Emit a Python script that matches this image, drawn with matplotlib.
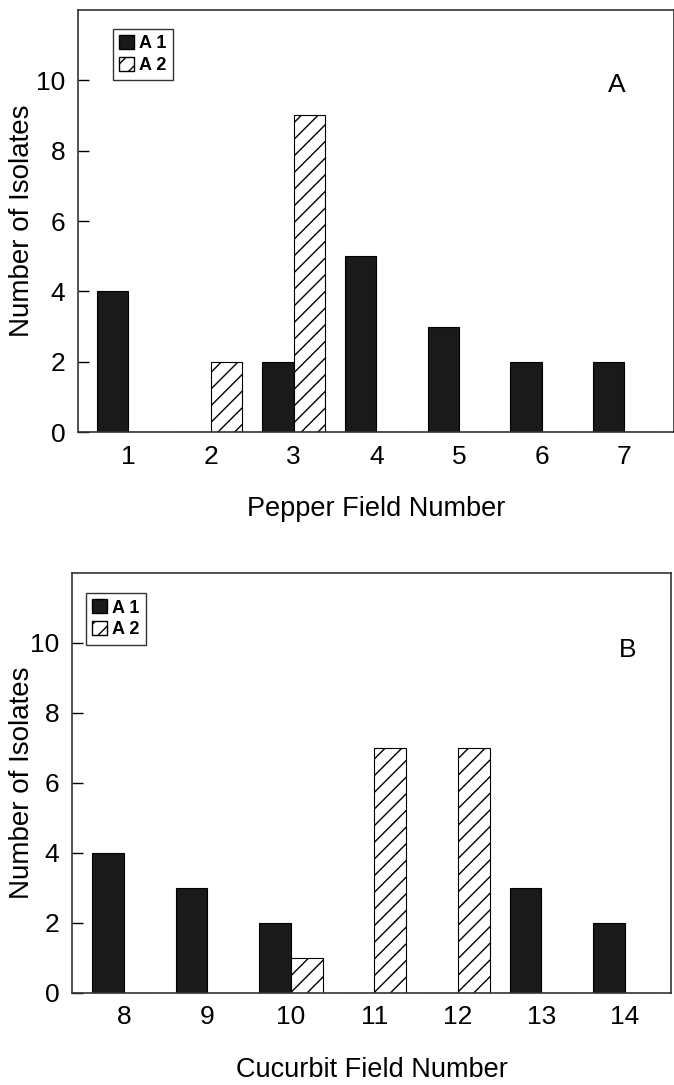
import matplotlib.pyplot as plt
from matplotlib.patches import Patch

plt.rcParams['font.family'] = ['Liberation Sans', 'DejaVu Sans']
plt.rcParams['hatch.linewidth'] = 1.0

# isolates per field, by mating type
pepper_fields = [1, 2, 3, 4, 5, 6, 7]
pepper_a1 = [4, 0, 2, 5, 3, 2, 2]
pepper_a2 = [0, 2, 9, 0, 0, 0, 0]

cucurbit_fields = [8, 9, 10, 11, 12, 13, 14]
cucurbit_a1 = [4, 3, 2, 0, 0, 3, 2]
cucurbit_a2 = [0, 0, 1, 7, 7, 0, 0]

yticks = [0, 2, 4, 6, 8, 10]


def draw_panel(ax, fields, a1, a2, xlabel, letter, xlim, leg_xy, letter_xy, ylab_x):
    w = 0.38
    ax.bar(fields, a1, width=-w, align='edge', color='#1a1a1a', edgecolor='black', linewidth=0.8)
    ax.bar(fields, a2, width=w, align='edge', color='white', edgecolor='black',
           linewidth=0.8, hatch='//')
    ax.set_xlim(*xlim)
    ax.set_ylim(0, 12)
    ax.set_yticks(yticks)
    ax.set_xticks(fields)
    ax.tick_params(axis='y', direction='in', length=8, width=1, labelsize=19, pad=9)
    ax.tick_params(axis='x', length=0, labelsize=19, pad=9)
    for s in ax.spines.values():
        s.set_linewidth(1.2)
        s.set_color('#333333')
    ax.set_ylabel('Number of Isolates', fontsize=20)
    ax.yaxis.set_label_coords(ylab_x, 0.5)
    ax.set_xlabel(xlabel, fontsize=19.5)
    ax.xaxis.set_label_coords(0.5, -0.152)
    ax.text(letter_xy[0], letter_xy[1], letter, transform=ax.transAxes,
            fontsize=19, ha='center', va='center')
    handles = [Patch(facecolor='#1a1a1a', edgecolor='black', label='A 1'),
               Patch(facecolor='white', edgecolor='black', hatch='//', label='A 2')]
    leg = ax.legend(handles=handles, loc='upper left', bbox_to_anchor=leg_xy,
                    prop={'weight': 'bold', 'size': 13},
                    frameon=True, fancybox=False, handlelength=0.8, handleheight=0.8,
                    handletextpad=0.3, borderpad=0.35, labelspacing=0.25,
                    borderaxespad=0)
    leg.get_frame().set_edgecolor('black')
    leg.get_frame().set_linewidth(1.0)


fig = plt.figure(figsize=(6.74, 10.85), dpi=100)
ax_a = fig.add_axes([0.1157, 0.6018, 0.8843, 0.389])
ax_b = fig.add_axes([0.1068, 0.0848, 0.8887, 0.3871])

draw_panel(ax_a, pepper_fields, pepper_a1, pepper_a2, 'Pepper Field Number', 'A',
           (0.39, 7.6), (0.059, 0.955), (0.904, 0.822), -0.072)
draw_panel(ax_b, cucurbit_fields, cucurbit_a1, cucurbit_a2, 'Cucurbit Field Number', 'B',
           (7.38, 14.55), (0.023, 0.952), (0.928, 0.817), -0.062)

fig.savefig('out.png', dpi=100)
